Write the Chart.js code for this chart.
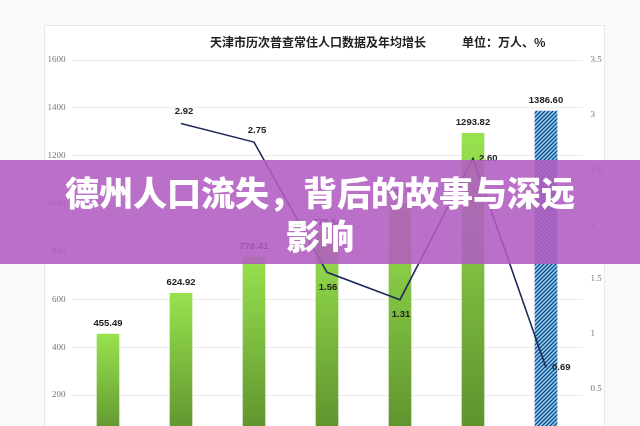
<!DOCTYPE html>
<html lang="zh-CN">
<head>
<meta charset="UTF-8">
<title>天津市历次普查常住人口数据及年均增长</title>
<script src="https://cdn.jsdelivr.net/npm/chart.js"></script>
<style>
    body {
        margin: 0;
        width: 640px;
        height: 426px;
        overflow: hidden;
        position: relative;
        background: #fafafa;
        font-family: "Noto Sans CJK SC", sans-serif;
    }
    #panel {
        position: absolute;
        left: 44px;
        top: 25px;
        width: 559px;
        height: 430px;
        background: #fff;
        border: 1px solid #e8e8e8;
    }
    #chart {
        position: absolute;
        left: 0;
        top: 0;
    }
    .title {
        position: absolute;
        top: 33px;
        font-size: 12px;
        font-weight: bold;
        color: #222;
        white-space: nowrap;
    }
    #banner {
        position: absolute;
        left: 0;
        top: 160px;
        width: 640px;
        height: 104px;
        background: rgba(176, 92, 192, 0.88);
        color: #fff;
        font-weight: 900;
        font-size: 34px;
        line-height: 43px;
        text-align: center;
        padding-top: 10px;
        box-sizing: border-box;
    }
</style>
</head>
<body>

<div id="panel"></div>
<canvas id="chart" width="640" height="470"></canvas>
<div class="title" style="left:210px">天津市历次普查常住人口数据及年均增长</div>
<div class="title" style="left:462px">单位：万人、%</div>
<div id="banner">德州人口流失，背后的故事与深远<br>影响</div>

<script>
    // 历次普查
    const censusYears = ['1953', '1964', '1982', '1990', '2000', '2010', '2020'];
    // 常住人口（万人）
    const population = [455.49, 624.92, 776.41, 878.54, 1001.14, 1293.82, 1386.60];
    // 年均增长（%）
    const growth = [null, 2.92, 2.75, 1.56, 1.31, 2.60, 0.69];
    const leftTicks = [0, 200, 400, 600, 800, 1000, 1200, 1400, 1600];
    const rightTicks = [0, 0.5, 1, 1.5, 2, 2.5, 3, 3.5];

    // 增长率标签的位置
    const growthLabelPos = ['', 'top', 'top', 'bottom', 'bottom', 'right', 'right'];

    const canvas = document.getElementById('chart');
    const ctx = canvas.getContext('2d');

    // 最后一根柱子的斜线填充
    const pc = document.createElement('canvas');
    pc.width = 4;
    pc.height = 4;
    const p = pc.getContext('2d');
    p.fillStyle = '#93d6f5';
    p.fillRect(0, 0, 4, 4);
    p.strokeStyle = '#1a4a88';
    p.lineWidth = 1.4;
    p.beginPath();
    p.moveTo(0, 4); p.lineTo(4, 0);
    p.moveTo(-1, 1); p.lineTo(1, -1);
    p.moveTo(3, 5); p.lineTo(5, 3);
    p.stroke();
    const hatch = ctx.createPattern(pc, 'repeat');

    function barColor(c) {
        const chart = c.chart;
        const area = chart.chartArea;
        if (c.dataIndex === population.length - 1) return hatch;
        if (!area || c.type !== 'data') return '#84cf42';
        const top = chart.scales.y.getPixelForValue(c.raw);
        const g = chart.ctx.createLinearGradient(0, top, 0, area.bottom);
        g.addColorStop(0, '#98e24f');
        g.addColorStop(1, '#5b8e2c');
        return g;
    }

    const valueLabels = {
        id: 'valueLabels',
        afterDatasetsDraw(chart) {
            const c = chart.ctx;
            c.save();
            c.font = 'bold 9.5px "Liberation Sans"';
            c.fillStyle = '#222';
            c.textAlign = 'center';
            c.textBaseline = 'bottom';
            chart.getDatasetMeta(0).data.forEach((b, i) => {
                c.fillText(population[i].toFixed(2), b.x, b.y - 6);
            });
            const pts = chart.getDatasetMeta(1).data;
            c.textBaseline = 'middle';
            growth.forEach((v, i) => {
                if (v === null) return;
                const pt = pts[i];
                const pos = growthLabelPos[i];
                if (pos === 'top') {
                    c.textAlign = 'center';
                    c.fillText(v.toFixed(2), pt.x + 3, pt.y - 12);
                } else if (pos === 'bottom') {
                    c.textAlign = 'center';
                    c.fillText(v.toFixed(2), pt.x + 1, pt.y + 15);
                } else {
                    c.textAlign = 'left';
                    c.fillText(v.toFixed(2), pt.x + 6, pt.y);
                }
            });
            c.restore();
        }
    };

    const tickFont = { family: '"Liberation Serif"', size: 9 };

    new Chart(ctx, {
        data: {
            labels: censusYears,
            datasets: [{
                type: 'bar',
                label: '常住人口',
                data: population,
                backgroundColor: barColor,
                barThickness: 22,
                yAxisID: 'y',
                order: 1
            }, {
                type: 'line',
                label: '年均增长',
                data: growth,
                borderColor: '#1e2a5c',
                borderWidth: 1.6,
                pointRadius: 0,
                tension: 0,
                yAxisID: 'y1',
                order: 0
            }]
        },
        options: {
            responsive: false,
            animation: false,
            layout: { padding: { left: 0, right: 17.5, top: 60, bottom: 27 } },
            plugins: {
                legend: { display: false },
                tooltip: { enabled: false }
            },
            scales: {
                x: { display: false },
                y: {
                    position: 'left',
                    min: 0,
                    max: 1600,
                    afterFit: s => { s.width = 71.5; },
                    afterBuildTicks: s => { s.ticks = leftTicks.map(v => ({ value: v })); },
                    border: { display: false },
                    grid: { color: '#ececec', drawTicks: false },
                    ticks: { padding: 6, color: '#777', font: tickFont, callback: v => String(v) }
                },
                y1: {
                    position: 'right',
                    min: 0,
                    max: 3.5,
                    afterFit: s => { s.width = 40; },
                    afterBuildTicks: s => { s.ticks = rightTicks.map(v => ({ value: v })); },
                    border: { display: false },
                    grid: { display: false, drawTicks: false },
                    ticks: { padding: 8, color: '#777', font: tickFont, callback: v => String(v) }
                }
            }
        },
        plugins: [valueLabels]
    });
</script>

</body>
</html>
